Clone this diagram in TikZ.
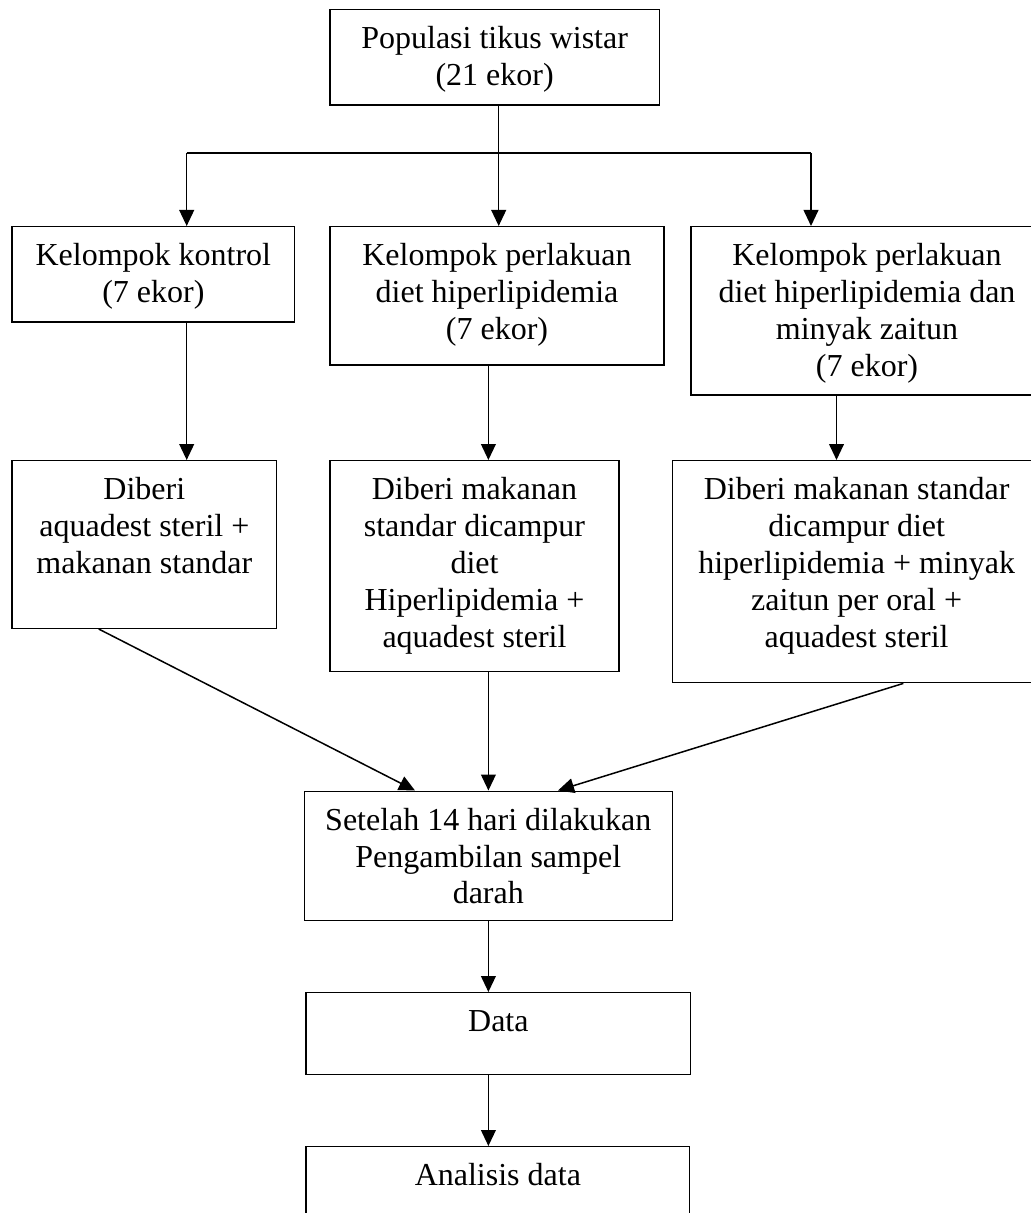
\documentclass[tikz,border=0pt]{standalone}
\usepackage{fontspec}
\setmainfont{Liberation Serif}
\usetikzlibrary{arrows.meta,calc,fit}
\begin{document}
\begin{tikzpicture}[x=0.5pt,y=-0.5pt,
  box/.style={draw, line width=0.7pt, inner sep=0pt},
  txt/.style={anchor=north, inner sep=0pt, align=center, font=\fontsize{16}{18.4}\selectfont},
  arr/.style={line width=0.75pt, -{Triangle[length=8pt,width=7.4pt]}},
  bar/.style={line width=1.15pt}
]
\useasboundingbox (0,0) rectangle (1031,1213);
\fill[white] (0,0) rectangle (1031,1213);
\clip (0,0) rectangle (1031,1213);

% boxes
\node[box, fit={(330,9.3) (659.3,105)}] (b0) {};
\node[box, fit={(12,226.7) (294.7,322)}] (b1) {};
\node[box, fit={(330,226.7) (664,365)}] (b2) {};
\node[box, fit={(691,226.7) (1043,395)}] (b3) {};
\node[box, fit={(12,460.7) (276.7,628.3)}] (b4) {};
\node[box, fit={(330,460.7) (619,671.7)}] (b5) {};
\node[box, fit={(672.3,460.7) (1041,682.7)}] (b6) {};
\node[box, fit={(304.3,791.2) (672.3,920.7)}] (b7) {};
\node[box, fit={(306,992.7) (690.7,1074.3)}] (b8) {};
\node[box, fit={(306,1146.7) (689.7,1240)}] (b9) {};

% texts
\node[txt] (t0) at ($(b0.north)+(0,13.7)$) {\strut Populasi tikus wistar\\(21 ekor)};
\node[txt] (t1) at ($(b1.north)+(0,13.7)$) {\strut Kelompok kontrol\\(7 ekor)};
\node[txt] (t2) at ($(b2.north)+(0,13.7)$) {\strut Kelompok perlakuan\\diet hiperlipidemia\\(7 ekor)};
\node[txt] (t3) at ($(b3.north)+(0,13.7)$) {\strut Kelompok perlakuan\\diet hiperlipidemia dan\\minyak zaitun\\(7 ekor)};
\node[txt] (t4) at ($(b4.north)+(0,13.7)$) {\strut Diberi\\aquadest steril +\\makanan standar};
\node[txt] (t5) at ($(b5.north)+(0,13.7)$) {\strut Diberi makanan\\standar dicampur\\diet\\Hiperlipidemia +\\aquadest steril};
\node[txt] (t6) at ($(b6.north)+(0,13.7)$) {\strut Diberi makanan standar\\dicampur diet\\hiperlipidemia + minyak\\zaitun per oral +\\aquadest steril};
\node[txt] (t7) at ($(b7.north)+(0,13.7)$) {\strut Setelah 14 hari dilakukan\\Pengambilan sampel\\darah};
\node[txt] (t8) at ($(b8.north)+(0,13.7)$) {\strut Data};
\node[txt] (t9) at ($(b9.north)+(0,13.7)$) {\strut Analisis data};

% junction coordinates
\coordinate (j1) at (186.7,153);
\coordinate (j2) at (498.7,153);
\coordinate (j3) at (811,153);
\coordinate (x2) at (488.4,0);
\coordinate (x3) at (836.5,0);
\coordinate (d1) at (98.7,0);
\coordinate (e1) at (415,0);
\coordinate (d3) at (903.3,0);
\coordinate (e3) at (558,0);

% connectors
\draw[line width=0.75pt] (j2 |- b0.south) -- (j2);
\draw[bar] (j1) -- (j3);
\draw[arr] (j1) -- (j1 |- b1.north);
\draw[arr] (j2) -- (j2 |- b2.north);
\draw[arr] (j3) -- (j3 |- b3.north);

\draw[arr] (j1 |- b1.south) -- (j1 |- b4.north);
\draw[arr] (x2 |- b2.south) -- (x2 |- b5.north);
\draw[arr] (x3 |- b3.south) -- (x3 |- b6.north);

\draw[arr] (d1 |- b4.south) -- (e1 |- b7.north);
\draw[arr] (x2 |- b5.south) -- (x2 |- b7.north);
\draw[arr] (d3 |- b6.south) -- (e3 |- b7.north);

\draw[arr] (x2 |- b7.south) -- (x2 |- b8.north);
\draw[arr] (x2 |- b8.south) -- (x2 |- b9.north);
\end{tikzpicture}
\end{document}
